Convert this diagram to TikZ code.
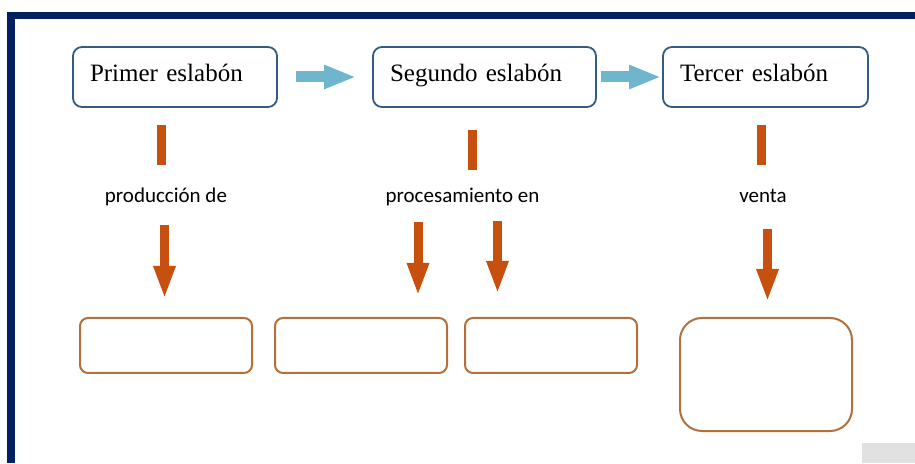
\documentclass[tikz,border=0pt]{standalone}
\usepackage{fontspec}
\setmainfont{Liberation Serif}
\newfontfamily\lblfont{Carlito}
\usetikzlibrary{arrows.meta}
\definecolor{marco}{RGB}{0,32,96}
\definecolor{azulborde}{RGB}{52,92,128}
\definecolor{azulflecha}{RGB}{111,181,204}
\definecolor{naranja}{RGB}{200,80,15}
\definecolor{cafe}{RGB}{180,112,60}
\definecolor{gris}{RGB}{225,225,225}
\begin{document}
\begin{tikzpicture}[x=1pt, y=1pt,
  eslabon/.style={draw=azulborde, line width=1.8pt, rounded corners=9pt, minimum height=60pt, inner xsep=17pt, text height=17pt, text depth=7pt, align=left, font=\fontsize{25}{28}\selectfont},
  hueco/.style={draw=cafe, line width=2pt, rounded corners=8pt, minimum width=172pt, minimum height=55pt, inner sep=0pt},
  lbl/.style={anchor=base, inner sep=0pt, font=\lblfont\fontsize{21}{24}\selectfont},
  paso/.style={azulflecha, line width=11pt, -{Triangle[length=32pt, width=22pt]}},
  barra/.style={naranja, line width=9pt},
  baja/.style={naranja, line width=9pt, -{Triangle[length=33pt, width=20pt]}}]
\useasboundingbox (0, 0) rectangle (915, 463);
\draw[marco, line width=7pt] (7, 447.5) -- (915, 447.5);
\draw[marco, line width=8pt] (11, 451) -- (11, 0);
\fill[gris] (862, 0) rectangle (915, 20);

\node[eslabon, text width=170pt] (primer) at (175, 386) {Primer eslabón};
\node[eslabon, text width=189pt] (segundo) at (484.5, 386) {Segundo eslabón};
\node[eslabon, text width=171pt] (tercer) at (765.5, 386) {Tercer eslabón};
\draw[paso, shorten <=18pt, shorten >=16pt] (primer.east) -- (segundo.west);
\draw[paso, shorten <=4pt, shorten >=1pt] (segundo.east) -- (tercer.west);

\node[lbl] (prod) at (166, 260) {producción de};
\node[lbl] (proc) at (462.5, 260) {procesamiento en};
\node[lbl] (venta) at (763, 260) {venta};

\node[hueco] (prodbox) at (166, 117.5) {};
\node[hueco] (procboxa) at (361, 117.5) {};
\node[hueco] (procboxb) at (551, 117.5) {};
\node[hueco, minimum height=113pt, rounded corners=22pt] (ventabox) at (766, 88.5) {};

\draw[barra, shorten <=17pt, shorten >=23pt] ([xshift=-14pt]primer.south) -- ([xshift=-5pt]prod.north);
\draw[barra, shorten <=22pt, shorten >=18pt] ([xshift=-12.5pt]segundo.south) -- ([xshift=9.5pt]proc.north);
\draw[barra, shorten <=17pt, shorten >=25pt] ([xshift=-4pt]tercer.south) -- ([xshift=-1.5pt]venta.north);

\draw[baja, shorten <=18.6pt, shorten >=18pt] ([xshift=-1.5pt]prod.south) -- ([xshift=-1.5pt]prodbox.north);
\draw[baja, shorten <=15.6pt, shorten >=21pt] ([xshift=-44.5pt]proc.south) -- ([xshift=57pt]procboxa.north);
\draw[baja, shorten <=14.6pt, shorten >=23pt] ([xshift=35pt]proc.south) -- ([xshift=-53.5pt]procboxb.north);
\draw[baja, shorten <=26pt, shorten >=15pt] ([xshift=4.5pt]venta.south) -- ([xshift=1.5pt]ventabox.north);
\end{tikzpicture}
\end{document}
